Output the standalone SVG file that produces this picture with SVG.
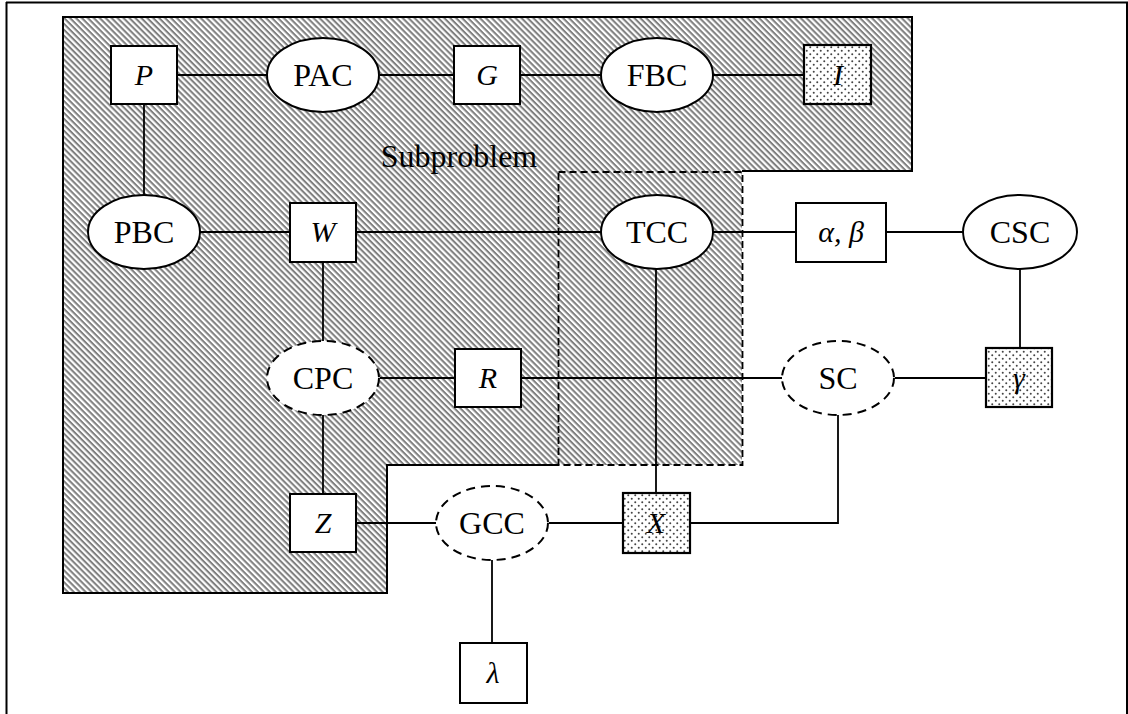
<svg xmlns="http://www.w3.org/2000/svg" width="1128" height="714" viewBox="0 0 1128 714">
<defs>
<pattern id="hatch" width="4.2" height="4.2" patternUnits="userSpaceOnUse" patternTransform="rotate(45)">
<rect width="4.2" height="4.2" fill="#ffffff"/>
<line x1="0" y1="1" x2="4.2" y2="1" stroke="#808080" stroke-width="2.1"/>
</pattern>
<pattern id="dots" width="7" height="7" patternUnits="userSpaceOnUse">
<rect width="7" height="7" fill="#ffffff"/>
<circle cx="1.75" cy="1.75" r="1" fill="#444"/>
<circle cx="5.25" cy="5.25" r="1" fill="#444"/>
</pattern>
</defs>
<style>
.box{fill:#fff;stroke:#000;stroke-width:2}
.dbox{fill:url(#dots);stroke:#000;stroke-width:2.2}
.ell{fill:#fff;stroke:#000;stroke-width:2}
.dell{fill:#fff;stroke:#000;stroke-width:2;stroke-dasharray:9 6}
.lbl{font-family:"Liberation Serif","Times New Roman",serif;font-size:32px;text-anchor:middle;fill:#000}
.it{font-family:"Liberation Serif","Times New Roman",serif;font-size:30px;font-style:italic;text-anchor:middle;fill:#000}
.conn line,.conn polyline{stroke:#000;stroke-width:1.8;fill:none}
</style>
<rect width="1128" height="714" fill="#fff"/>
<g id="frame" stroke="#000" stroke-width="2" fill="none">
<line x1="6" y1="2.5" x2="1128" y2="2.5"/>
<line x1="6.5" y1="2" x2="6.5" y2="714"/>
<line x1="1127" y1="2" x2="1127" y2="714"/>
</g>
<g id="subproblem">
<polygon points="63,17 912,17 912,171 742,171 742,465 387,465 387,593 63,593" fill="url(#hatch)" stroke="none"/>
<polyline points="742,171 912,171 912,17 63,17 63,593 387,593 387,465 558,465" fill="none" stroke="#000" stroke-width="2"/>
<rect x="558.5" y="172" width="184" height="293" fill="none" stroke="#000" stroke-width="1.8" stroke-dasharray="7 4"/>
<text class="lbl" x="459" y="167">Subproblem</text>
</g>
<g class="conn" id="connectors">
<line x1="177" y1="75" x2="267" y2="75"/>
<line x1="380" y1="75" x2="455" y2="75"/>
<line x1="521" y1="75" x2="601" y2="75"/>
<line x1="713" y1="75" x2="804" y2="75"/>
<line x1="144" y1="104" x2="144" y2="195"/>
<line x1="200" y1="232" x2="290" y2="232"/>
<line x1="356" y1="232" x2="601" y2="232"/>
<line x1="713" y1="232" x2="796" y2="232"/>
<line x1="886" y1="232" x2="963" y2="232"/>
<line x1="1020" y1="269" x2="1020" y2="348"/>
<line x1="323" y1="262" x2="323" y2="341"/>
<line x1="380" y1="378" x2="455" y2="378"/>
<line x1="521" y1="378" x2="782" y2="378"/>
<line x1="895" y1="378" x2="986" y2="378"/>
<line x1="323" y1="415" x2="323" y2="494"/>
<line x1="356" y1="523" x2="436" y2="523"/>
<line x1="549" y1="523" x2="623" y2="523"/>
<polyline points="690,523 838,523 838,415"/>
<line x1="656" y1="269" x2="656" y2="493"/>
<line x1="492" y1="560" x2="492" y2="643"/>
</g>
<g id="P"><rect class="box" x="111" y="46" width="66" height="58"/><text class="it" x="144" y="85">P</text></g>
<g id="PAC"><ellipse class="ell" cx="323" cy="75" rx="56" ry="37"/><text class="lbl" x="323" y="86">PAC</text></g>
<g id="G"><rect class="box" x="454" y="46" width="66" height="58"/><text class="it" x="487" y="85">G</text></g>
<g id="FBC"><ellipse class="ell" cx="657" cy="75" rx="56" ry="37"/><text class="lbl" x="657" y="86">FBC</text></g>
<g id="I"><rect class="dbox" x="804" y="45" width="67" height="59"/><text class="it" x="838" y="85">I</text></g>
<g id="PBC"><ellipse class="ell" cx="144" cy="232" rx="56" ry="37"/><text class="lbl" x="144" y="243">PBC</text></g>
<g id="W"><rect class="box" x="290" y="203" width="66" height="59"/><text class="it" x="323" y="242">W</text></g>
<g id="TCC"><ellipse class="ell" cx="657" cy="232" rx="56" ry="37"/><text class="lbl" x="657" y="243">TCC</text></g>
<g id="alphabeta"><rect class="box" x="796" y="203" width="90" height="59"/><text class="it" x="841" y="242">α, β</text></g>
<g id="CSC"><ellipse class="ell" cx="1020" cy="232" rx="57" ry="37"/><text class="lbl" x="1020" y="243">CSC</text></g>
<g id="CPC"><ellipse class="dell" cx="323" cy="378" rx="56" ry="37"/><text class="lbl" x="323" y="389">CPC</text></g>
<g id="R"><rect class="box" x="455" y="349" width="66" height="58"/><text class="it" x="488" y="388">R</text></g>
<g id="SC"><ellipse class="dell" cx="838" cy="378" rx="56" ry="37"/><text class="lbl" x="838" y="389">SC</text></g>
<g id="gamma"><rect class="dbox" x="986" y="348" width="66" height="59"/><text class="it" x="1019" y="388">γ</text></g>
<g id="Z"><rect class="box" x="290" y="494" width="66" height="58"/><text class="it" x="323" y="533">Z</text></g>
<g id="GCC"><ellipse class="dell" cx="492" cy="523" rx="56" ry="37"/><text class="lbl" x="492" y="534">GCC</text></g>
<g id="X"><rect class="dbox" x="623" y="493" width="67" height="60"/><text class="it" x="656" y="533">X</text></g>
<g id="lambda"><rect class="box" x="460" y="643" width="67" height="60"/><text class="it" x="493" y="683">λ</text></g>
</svg>
